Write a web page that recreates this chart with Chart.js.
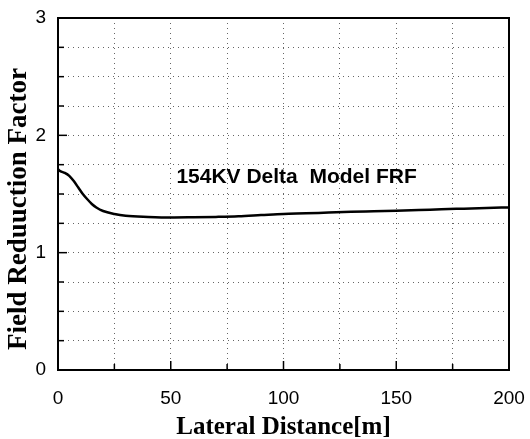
<!DOCTYPE html>
<html>
<head>
<meta charset="utf-8">
<script src="https://cdn.jsdelivr.net/npm/chart.js@4.4.1/dist/chart.umd.min.js"></script>
<style>
html,body{margin:0;padding:0;background:#fff;}
#wrap{width:530px;height:439px;}
</style>
</head>
<body>
<div id="wrap"><canvas id="c" width="530" height="439"></canvas></div>
<script>
const distances = [0, 1, 3, 5, 7, 9, 11, 13, 15, 17, 20, 25, 30, 40, 50, 60, 70, 80, 90, 100, 110, 120, 130, 140, 150, 160, 170, 180, 190, 200];
const frfValues = [1.71, 1.695, 1.68, 1.655, 1.61, 1.555, 1.50, 1.455, 1.415, 1.385, 1.355, 1.33, 1.315, 1.305, 1.30, 1.302, 1.305, 1.31, 1.32, 1.33, 1.335, 1.342, 1.348, 1.353, 1.358, 1.363, 1.37, 1.375, 1.38, 1.386];
const xTickLabels = ['0', '50', '100', '150', '200'];
const yTickLabels = ['0', '1', '2', '3'];
const seriesLabel = '154KV Delta  Model FRF';
const xTitle = 'Lateral Distance[m]';
const yTitle = 'Field Reduuction Factor';

const points = distances.map((d, i) => ({x: d, y: frfValues[i]}));

const framePlugin = {
  id: 'frame',
  afterDatasetsDraw(chart) {
    const ctx = chart.ctx, a = chart.chartArea;
    const xs = chart.scales.x, ys = chart.scales.y;
    ctx.save();
    ctx.strokeStyle = '#000';
    ctx.lineWidth = 1.5;
    xs.ticks.forEach(t => {
      const px = xs.getPixelForValue(t.value);
      const major = xTickLabels.includes(String(t.value));
      const len = major ? 9 : 6;
      ctx.beginPath();
      ctx.moveTo(px, a.bottom); ctx.lineTo(px, a.bottom - len);
      ctx.stroke();
    });
    ys.ticks.forEach(t => {
      const py = ys.getPixelForValue(t.value);
      const major = yTickLabels.includes(String(t.value));
      const len = major ? 9 : 6;
      ctx.beginPath();
      ctx.moveTo(a.left, py); ctx.lineTo(a.left + len, py);
      ctx.stroke();
    });
    ctx.lineWidth = 2;
    ctx.strokeRect(a.left, a.top, a.right - a.left, a.bottom - a.top);
    ctx.fillStyle = '#000';
    ctx.font = 'bold 21px "Liberation Sans", Arial, sans-serif';
    ctx.textAlign = 'left';
    ctx.textBaseline = 'middle';
    ctx.fillText(seriesLabel, xs.getPixelForValue(52.5), ys.getPixelForValue(1.64));
    ctx.save();
    ctx.translate(19, (a.top + a.bottom) / 2 + 15);
    ctx.rotate(-Math.PI / 2);
    ctx.textAlign = 'center';
    ctx.font = 'bold 27px "Liberation Serif", "Times New Roman", serif';
    ctx.fillText(yTitle, 0, 0);
    ctx.restore();
    ctx.restore();
  }
};

new Chart(document.getElementById('c'), {
  type: 'line',
  data: {
    datasets: [{
      label: seriesLabel,
      data: points,
      borderColor: '#000',
      borderWidth: 2.5,
      pointRadius: 0,
      fill: false,
      cubicInterpolationMode: 'monotone'
    }]
  },
  options: {
    responsive: false,
    animation: false,
    devicePixelRatio: 1,
    layout: {padding: {top: 18, right: 21, left: 0, bottom: 0}},
    plugins: {legend: {display: false}, tooltip: {enabled: false}},
    scales: {
      x: {
        type: 'linear', min: 0, max: 200,
        border: {display: false, dash: [1, 4]},
        grid: {color: '#666', lineWidth: 1, drawTicks: false},
        ticks: {
          stepSize: 25,
          padding: 17,
          color: '#000',
          font: {family: '"Liberation Sans", Arial, sans-serif', size: 19},
          callback: v => xTickLabels.includes(String(v)) ? String(v) : ''
        },
        title: {display: true, text: xTitle, color: '#000', padding: {top: 6, bottom: -4},
          font: {family: '"Liberation Serif", "Times New Roman", serif', size: 25, weight: 'bold'}},
        afterFit(s) { s.height = 69; s.paddingLeft = 0; s.paddingRight = 0; }
      },
      y: {
        min: 0, max: 3,
        border: {display: false, dash: [1, 4]},
        grid: {color: '#666', lineWidth: 1, drawTicks: false},
        ticks: {
          stepSize: 0.25,
          padding: 12,
          color: '#000',
          font: {family: '"Liberation Sans", Arial, sans-serif', size: 19},
          callback: v => yTickLabels.includes(String(v)) ? String(v) : ''
        },
        title: {display: false, text: yTitle},
        afterFit(s) { s.width = 58; s.paddingTop = 0; s.paddingBottom = 0; }
      }
    }
  },
  plugins: [framePlugin]
});
</script>
</body>
</html>
